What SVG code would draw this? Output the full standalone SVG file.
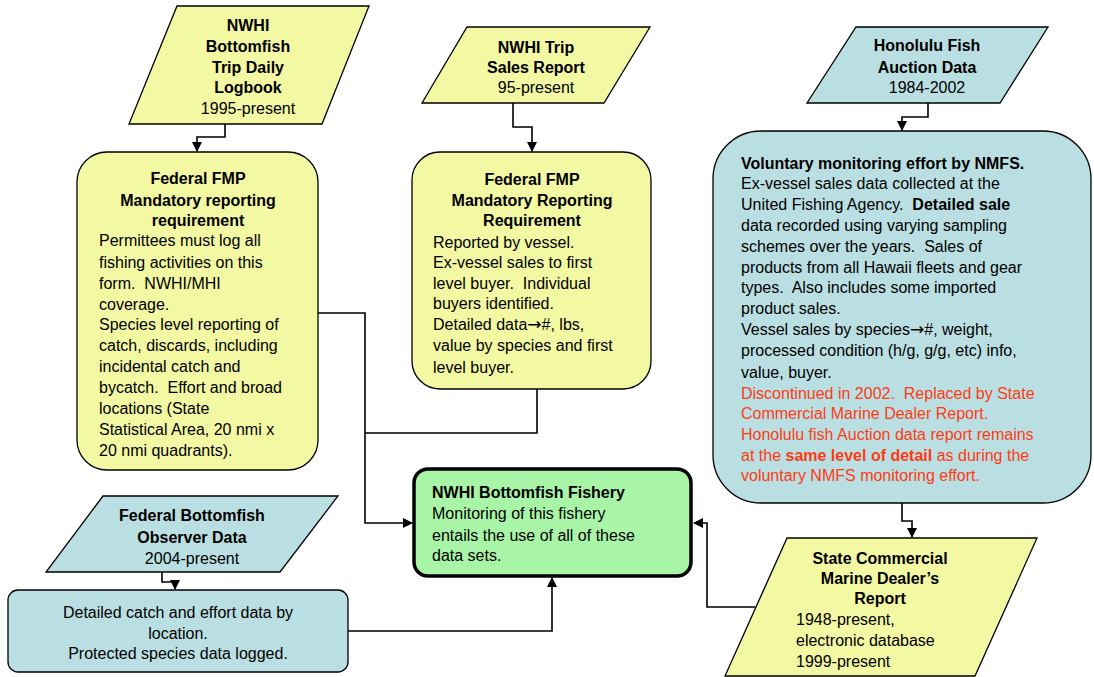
<svg xmlns="http://www.w3.org/2000/svg" width="1094" height="677" viewBox="0 0 1094 677">
<defs>
<marker id="arr" markerWidth="10" markerHeight="10" refX="9" refY="5" orient="auto" markerUnits="userSpaceOnUse">
<path d="M0,0 L10,5 L0,10 Z" fill="#000"/>
</marker>
<style>
.y{fill:#F3F8A3;stroke:#000;stroke-width:1.3}
.b{fill:#BADFE2;stroke:#000;stroke-width:1.3}
.g{fill:#A8F5A8;stroke:#000;stroke-width:3.5}
text{font-family:"Liberation Sans",Arial,sans-serif;font-size:16px;fill:#000;white-space:pre}
.t{font-weight:bold}
.c{text-anchor:middle}
.r{fill:#FF3A12}
.a{font-family:"DejaVu Sans",sans-serif;font-size:17px}
.w{fill:none;stroke:#000;stroke-width:1.6}
</style>
</defs>
<rect width="1094" height="677" fill="#fff"/>

<g id="connectors">
<path class="w" d="M225,124 V137 H197 V151" marker-end="url(#arr)"/>
<path class="w" d="M513,103 V127 H532 V151" marker-end="url(#arr)"/>
<path class="w" d="M928,103 V117 H902 V130" marker-end="url(#arr)"/>
<path class="w" d="M902,503 V521 H912 V537" marker-end="url(#arr)"/>
<path class="w" d="M162,572 V582 H175 V589" marker-end="url(#arr)"/>
<path class="w" d="M318,313 H365 V523 H412" marker-end="url(#arr)"/>
<path class="w" d="M537,389 V433 H365"/>
<path class="w" d="M348,631 H552 V578" marker-end="url(#arr)"/>
<path class="w" d="M755,607 H707 V523 H694" marker-end="url(#arr)"/>
</g>

<g id="logbook">
<polygon class="y" points="177,6 369,6 322,124 129,124"/>
<text class="t c" x="248" y="31">NWHI</text>
<text class="t c" x="248" y="52">Bottomfish</text>
<text class="t c" x="248" y="73">Trip Daily</text>
<text class="t c" x="248" y="93">Logbook</text>
<text class="c" x="248" y="114">1995-present</text>
</g>

<g id="fmp1">
<rect class="y" x="77" y="152" width="241" height="318" rx="30"/>
<text class="t c" x="198" y="184">Federal FMP</text>
<text class="t c" x="198" y="206">Mandatory reporting</text>
<text class="t c" x="198" y="226">requirement</text>
<text x="99" y="246">Permittees must log all</text>
<text x="99" y="268">fishing activities on this</text>
<text x="99" y="289">form.  NWHI/MHI</text>
<text x="99" y="310">coverage.</text>
<text x="99" y="330">Species level reporting of</text>
<text x="99" y="351">catch, discards, including</text>
<text x="99" y="372">incidental catch and</text>
<text x="99" y="393">bycatch.  Effort and broad</text>
<text x="99" y="414">locations (State</text>
<text x="99" y="435">Statistical Area, 20 nmi x</text>
<text x="99" y="456">20 nmi quadrants).</text>
</g>

<g id="salesreport">
<polygon class="y" points="467,27 650,27 604,103 422,103"/>
<text class="t c" x="536" y="53">NWHI Trip</text>
<text class="t c" x="536" y="73">Sales Report</text>
<text class="c" x="536" y="93">95-present</text>
</g>

<g id="fmp2">
<rect class="y" x="412" y="152" width="239" height="237" rx="28"/>
<text class="t c" x="532" y="185">Federal FMP</text>
<text class="t c" x="532" y="206">Mandatory Reporting</text>
<text class="t c" x="532" y="226">Requirement</text>
<text x="433" y="248">Reported by vessel.</text>
<text x="433" y="268">Ex-vessel sales to first</text>
<text x="433" y="289">level buyer.  Individual</text>
<text x="433" y="309">buyers identified.</text>
<text x="433" y="330">Detailed data<tspan class="a">→</tspan>#, lbs,</text>
<text x="433" y="351">value by species and first</text>
<text x="433" y="373">level buyer.</text>
</g>

<g id="auction">
<polygon class="b" points="856,27 1048,27 1000,103 807,103"/>
<text class="t c" x="927" y="51">Honolulu Fish</text>
<text class="t c" x="927" y="73">Auction Data</text>
<text class="c" x="927" y="93">1984-2002</text>
</g>

<g id="voluntary">
<rect class="b" x="713" y="131" width="378" height="372" rx="48"/>
<text class="t" x="741" y="169">Voluntary monitoring effort by NMFS.</text>
<text x="741" y="189">Ex-vessel sales data collected at the</text>
<text x="741" y="210">United Fishing Agency.  <tspan class="t">Detailed sale</tspan></text>
<text x="741" y="231">data recorded using varying sampling</text>
<text x="741" y="252">schemes over the years.  Sales of</text>
<text x="741" y="273">products from all Hawaii fleets and gear</text>
<text x="741" y="293">types.  Also includes some imported</text>
<text x="741" y="314">product sales.</text>
<text x="741" y="335">Vessel sales by species<tspan class="a">→</tspan>#, weight,</text>
<text x="741" y="356">processed condition (h/g, g/g, etc) info,</text>
<text x="741" y="378">value, buyer.</text>
<text class="r" x="741" y="399">Discontinued in 2002.  Replaced by State</text>
<text class="r" x="741" y="419">Commercial Marine Dealer Report.</text>
<text class="r" x="741" y="440">Honolulu fish Auction data report remains</text>
<text class="r" x="741" y="461">at the <tspan class="t r">same level of detail</tspan> as during the</text>
<text class="r" x="741" y="481">voluntary NMFS monitoring effort.</text>
</g>

<g id="fishery">
<rect class="g" x="414" y="469" width="277" height="107" rx="14"/>
<text class="t" x="432" y="498">NWHI Bottomfish Fishery</text>
<text x="432" y="519">Monitoring of this fishery</text>
<text x="432" y="541">entails the use of all of these</text>
<text x="432" y="561">data sets.</text>
</g>

<g id="observer">
<polygon class="b" points="103,496 338,496 280,572 46,572"/>
<text class="t c" x="192" y="521">Federal Bottomfish</text>
<text class="t c" x="192" y="543">Observer Data</text>
<text class="c" x="192" y="564">2004-present</text>
</g>

<g id="observerdata">
<rect class="b" x="8" y="590" width="340" height="82" rx="10"/>
<text class="c" x="178" y="618">Detailed catch and effort data by</text>
<text class="c" x="178" y="639">location.</text>
<text class="c" x="178" y="659">Protected species data logged.</text>
</g>

<g id="dealer">
<polygon class="y" points="787,538 1037,538 975,676 725,676"/>
<text class="t c" x="880" y="564">State Commercial</text>
<text class="t c" x="880" y="584">Marine Dealer’s</text>
<text class="t c" x="880" y="604">Report</text>
<text x="796" y="625">1948-present,</text>
<text x="796" y="646">electronic database</text>
<text x="796" y="667">1999-present</text>
</g>
</svg>
